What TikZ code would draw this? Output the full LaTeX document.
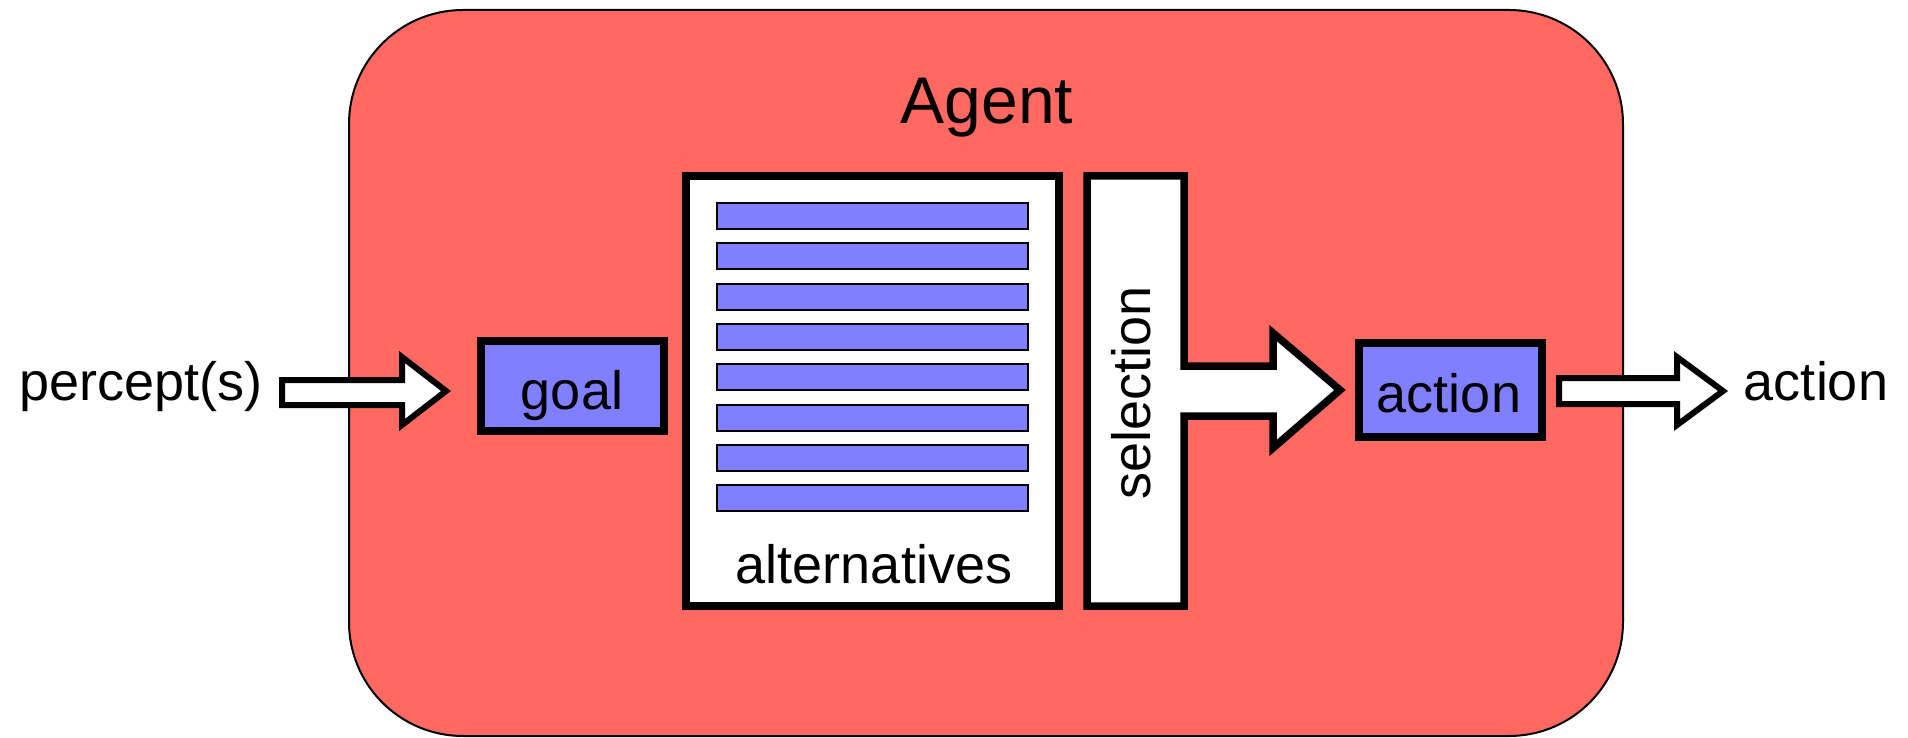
\documentclass[tikz,border=0pt]{standalone}
\usepackage{fontspec}
\setmainfont{Liberation Sans}
\definecolor{agentred}{HTML}{FF6962}
\definecolor{optblue}{HTML}{7F7FFF}

\begin{document}
\begin{tikzpicture}[x=0.5pt,y=-0.5pt,
    box/.style={draw,line width=4pt,fill=optblue},
    panel/.style={draw,line width=3.75pt,fill=white},
    blockarrow/.style={draw,line width=3pt,fill=white},
    lbl/.style={font=\fontsize{27}{32}\selectfont,anchor=base,inner sep=0pt}]
    \useasboundingbox (0,0) rectangle (1908,738);

    % agent
    \draw[fill=agentred,line width=1pt,rounded corners=57pt] (349,10) rectangle (1623,736);
    \node[lbl,font=\fontsize{33}{40}\selectfont] (agent) at (987,124) {Agent};

    % input
    \node[lbl] (percept) at (141,400) {percept(s)};
    \draw[blockarrow] (282,380) -- (402,380) -- (402,357) -- (446,391) -- (402,425) -- (402,405) -- (282,405) -- cycle;
    \draw[box] (481,341) rectangle (664,431);
    \node[lbl] (goal) at (572,409) {goal};

    % alternatives
    \draw[panel] (686,176) rectangle (1059,606);
    \foreach \i in {0,...,7}
        \draw[fill=optblue,line width=1pt] (717,{203+40.3*\i}) rectangle (1028,{229+40.3*\i});
    \node[lbl] (alts) at (874,583) {alternatives};

    % selection
    \draw[panel] (1087,176) -- (1184,176) -- (1184,366) -- (1273,366) -- (1273,333) -- (1340,390)
        -- (1273,448) -- (1273,416) -- (1184,416) -- (1184,606) -- (1087,606) -- cycle;
    \node[lbl,rotate=90] (sel) at (1150,393) {selection};

    % output
    \draw[box] (1359,343) rectangle (1542,437);
    \node[lbl] (act) at (1449,412) {action};
    \draw[blockarrow] (1559,378) -- (1677,378) -- (1677,357) -- (1723,391) -- (1677,425) -- (1677,404) -- (1559,404) -- cycle;
    \node[lbl] (out) at (1816,400) {action};
\end{tikzpicture}
\end{document}
